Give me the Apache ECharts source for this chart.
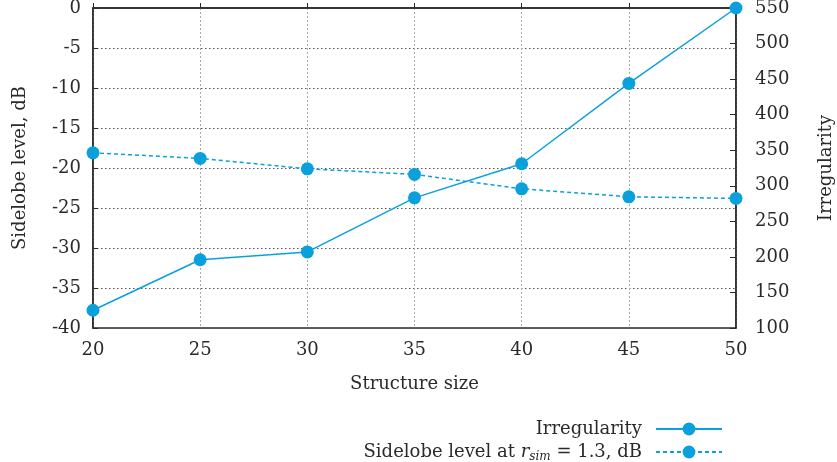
<!DOCTYPE html>
<html lang="en">
<head>
    <meta charset="UTF-8">
    <script src="https://cdn.jsdelivr.net/npm/echarts@6/dist/echarts.min.js"></script>
    <title>Structure size</title>
    <style type="text/css">
        html, body { margin: 0; padding: 0; background: #fff; }
        #chart { width: 837px; height: 462px; }
    </style>
</head>
<body>
<div id="chart"></div>
<script type="text/javascript">
    // data
    const structureSize = [20, 25, 30, 35, 40, 45, 50];
    const irregularity = [125, 196, 207, 283, 331, 444, 550];
    const sidelobeLevel = [-18.1, -18.8, -20.1, -20.8, -22.6, -23.6, -23.8];

    const blue = '#0aa0dc';
    const ink = '#2a2a2a';
    const font = 'DejaVu Serif';
    const fs = 18;

    function pairs(xs, ys) {
        const out = [];
        for (let i = 0; i < xs.length; i++) {
            out.push([xs[i], ys[i]]);
        }
        return out;
    }

    function legendItem(name, top, formatter) {
        return {
            orient: 'vertical',
            right: 114,
            top: top,
            align: 'right',
            padding: 0,
            itemWidth: 66,
            itemHeight: 16,
            textStyle: {
                fontFamily: font, fontSize: fs, color: ink, padding: [0, 9, 0, 0],
                rich: {
                    i: { fontFamily: font, fontSize: fs, fontStyle: 'italic', color: ink },
                    s: { fontFamily: font, fontSize: 12, fontStyle: 'italic', color: ink, padding: [9, 0, 0, 0] }
                }
            },
            data: [name],
            formatter: formatter
        };
    }

    const myChart = echarts.init(document.getElementById('chart'));

    const option = {
        animation: false,
        textStyle: { fontFamily: font, color: ink },
        grid: {
            left: 93, right: 101, top: 8, bottom: 134,
            outerBoundsMode: 'none',
            containLabel: false,
            show: true, borderColor: ink, borderWidth: 1.5
        },
        legend: [
            legendItem('Irregularity', 420, null),
            legendItem('Sidelobe level at r_sim = 1.3, dB', 443, function () {
                return 'Sidelobe level at {i|r}{s|sim} = 1.3, dB';
            })
        ],
        xAxis: {
            type: 'value',
            min: 20, max: 50, interval: 5,
            name: 'Structure size',
            nameLocation: 'middle',
            nameGap: 47,
            nameTextStyle: { fontFamily: font, fontSize: fs, color: ink },
            axisLine: { lineStyle: { color: ink, width: 1.5 } },
            axisTick: { inside: true, length: 5, lineStyle: { color: ink } },
            axisLabel: { fontFamily: font, fontSize: fs, color: ink, margin: 13 },
            splitLine: { show: true, lineStyle: { color: '#aaa', type: [2, 2], width: 1 } }
        },
        yAxis: [
            {
                type: 'value',
                min: -40, max: 0, interval: 5,
                name: 'Sidelobe level, dB',
                nameLocation: 'middle',
                nameRotate: 90,
                nameGap: 64,
                nameTextStyle: { fontFamily: font, fontSize: fs, color: ink },
                axisLine: { show: true, lineStyle: { color: ink, width: 1.5 } },
                axisTick: { show: true, inside: true, length: 5, lineStyle: { color: ink } },
                axisLabel: { fontFamily: font, fontSize: fs, color: ink, margin: 12 },
                splitLine: { show: true, lineStyle: { color: '#555', type: [1.5, 2.5], width: 1 } }
            },
            {
                type: 'value',
                min: 100, max: 550, interval: 50,
                name: 'Irregularity',
                nameLocation: 'middle',
                nameRotate: 90,
                nameGap: 81,
                nameTextStyle: { fontFamily: font, fontSize: fs, color: ink },
                axisLine: { show: true, lineStyle: { color: ink, width: 1.5 } },
                axisTick: { show: true, inside: true, length: 6, lineStyle: { color: ink } },
                axisLabel: { fontFamily: font, fontSize: fs, color: ink, margin: 19 },
                splitLine: { show: false }
            }
        ],
        series: [
            {
                name: 'Irregularity',
                type: 'line',
                yAxisIndex: 1,
                data: pairs(structureSize, irregularity),
                symbol: 'circle',
                symbolSize: 13,
                itemStyle: { color: blue },
                lineStyle: { color: blue, width: 1.5 }
            },
            {
                name: 'Sidelobe level at r_sim = 1.3, dB',
                type: 'line',
                yAxisIndex: 0,
                data: pairs(structureSize, sidelobeLevel),
                symbol: 'circle',
                symbolSize: 13,
                itemStyle: { color: blue },
                lineStyle: { color: blue, width: 1.5, type: [4, 3] }
            }
        ]
    };

    myChart.setOption(option);
</script>
</body>
</html>
